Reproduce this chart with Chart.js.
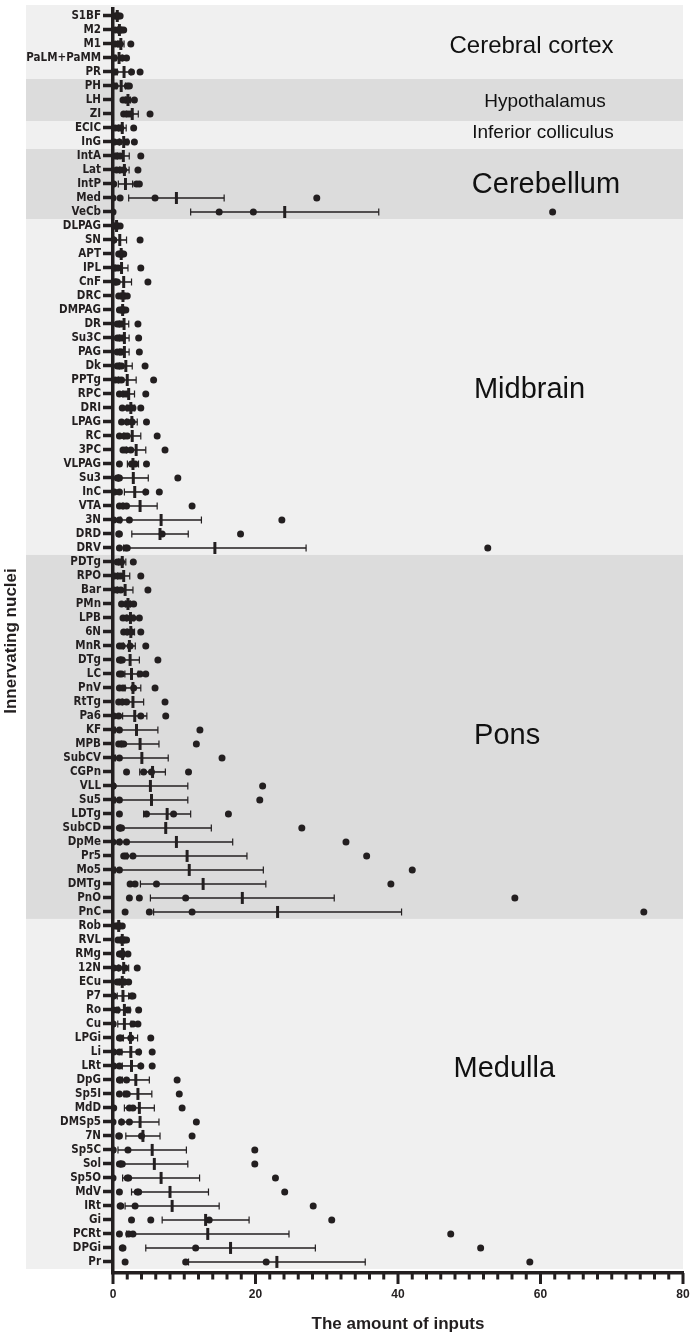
<!DOCTYPE html>
<html>
<head>
<meta charset="utf-8">
<script src="https://cdn.jsdelivr.net/npm/chart.js@4.4.1/dist/chart.umd.min.js"></script>
<style>
html,body{margin:0;padding:0;background:#ffffff;}
canvas{display:block;}
</style>
</head>
<body>
<canvas id="c" width="692" height="1339"></canvas>
<script>
// ---------------- DATA ----------------
const nuclei = ['S1BF','M2','M1','PaLM+PaMM','PR','PH','LH','ZI','ECIC','InG','IntA','Lat','IntP','Med','VeCb',
 'DLPAG','SN','APT','IPL','CnF','DRC','DMPAG','DR','Su3C','PAG','Dk','PPTg','RPC','DRI','LPAG','RC','3PC','VLPAG','Su3','InC','VTA','3N','DRD','DRV',
 'PDTg','RPO','Bar','PMn','LPB','6N','MnR','DTg','LC','PnV','RtTg','Pa6','KF','MPB','SubCV','CGPn','VLL','Su5','LDTg','SubCD','DpMe','Pr5','Mo5','DMTg','PnO','PnC',
 'Rob','RVL','RMg','12N','ECu','P7','Ro','Cu','LPGi','Li','LRt','DpG','Sp5I','MdD','DMSp5','7N','Sp5C','Sol','Sp5O','MdV','IRt','Gi','PCRt','DPGi','Pr'];

// individual animals (4 per nucleus)
const animal1 = [0.2,0.3,0.3,0,0,0,1.4,1.5,0.3,0.2,0.3,0.5,0,0,0,
 0,0,0.8,0,0.2,0.8,0.9,0.6,0.6,0.6,0.6,0.3,0.9,1.3,1.2,0.9,1.4,0.9,0.6,0.2,0.9,0.1,0.8,0.9,
 0.6,0.2,0.1,1.2,1.4,1.5,0.9,0.9,0.9,0.9,0.8,0.1,0,0.8,0,1.9,0,0,0.9,0.9,0,1.5,0,2.4,2.3,1.7,
 0.3,0.7,0.9,0.1,0.6,0,0,0,0.9,0.1,0.1,0.9,0.9,0.1,0,0.8,0,0.9,0,0.9,1.0,2.6,0.9,1.3,1.7];
const animal2 = [0.5,0.8,0.8,0.2,0.3,0.3,1.8,2.0,0.8,0.9,0.6,1.0,0.1,1.0,14.9,
 0.3,0.1,1.0,0.3,0.4,1.2,1.2,0.9,0.9,1.0,0.9,0.8,1.5,2.1,2.0,1.6,1.8,2.6,0.8,0.9,1.4,0.9,0.9,1.8,
 0.9,0.7,0.6,1.9,1.9,2.0,1.3,1.1,1.2,1.4,1.3,0.8,0,1.2,0,4.3,0,0,4.7,1.0,0.9,1.8,0,3.1,3.7,5.1,
 0.6,1.1,1.1,0.8,0.9,0.1,0.6,0,1.1,0.9,0.9,1.0,1.8,2.3,1.2,0.9,0,1.1,2.0,3.4,1.1,5.3,2.2,1.4,10.2];
const animal3 = [0.8,1.2,1.0,1.3,2.6,2.0,2.1,2.4,1.1,1.9,1.0,1.5,3.3,5.9,19.7,
 0.6,0.1,1.3,0.7,0.6,1.6,1.5,1.2,1.3,1.2,1.2,1.2,1.9,2.8,2.7,2.0,2.5,3.1,0.9,4.6,1.9,2.3,6.9,2.0,
 1.2,1.1,1.1,2.3,2.8,2.6,2.4,1.3,3.8,2.9,1.9,3.9,0.9,1.5,0.9,5.4,0,0.9,8.5,1.2,1.9,2.8,0.9,6.1,10.2,11.1,
 0.9,1.6,1.3,1.7,1.6,2.6,2.1,2.8,2.5,3.6,3.9,1.9,2.0,2.8,2.3,4.0,2.1,1.3,2.2,3.6,3.1,13.5,2.8,11.6,21.5];
const animal4 = [1.0,1.5,2.5,1.9,3.8,2.3,3.0,5.2,2.9,3.0,3.9,3.5,3.7,28.6,61.7,
 1.0,3.8,1.5,3.9,4.9,2.0,1.8,3.5,3.6,3.7,4.5,5.7,4.6,3.9,4.7,6.2,7.3,4.7,9.1,6.5,11.1,23.7,17.9,52.6,
 2.85,3.9,4.9,2.9,3.7,3.9,4.6,6.3,4.6,5.9,7.3,7.4,12.2,11.7,15.3,10.6,21.0,20.6,16.2,26.5,32.7,35.6,42.0,39.0,56.4,74.5,
 1.3,1.9,2.1,3.4,2.2,2.8,3.6,3.5,5.3,5.5,5.5,9.0,9.3,9.7,11.7,11.1,19.9,19.9,22.8,24.1,28.1,30.7,47.4,51.6,58.5];

// group mean and SEM
const meanInputs = [0.6,0.9,1.1,0.85,1.55,1.15,2.1,2.7,1.3,1.5,1.45,1.6,1.75,8.9,24.1,
 0.5,0.95,1.15,1.2,1.5,1.4,1.35,1.55,1.6,1.6,1.8,2.0,2.2,2.5,2.65,2.7,3.25,2.8,2.85,3.05,3.8,6.75,6.6,14.3,
 1.3,1.5,1.7,2.1,2.45,2.5,2.3,2.4,2.6,2.8,2.8,3.05,3.3,3.8,4.05,5.55,5.25,5.4,7.6,7.4,8.9,10.4,10.7,12.65,18.15,23.1,
 0.8,1.3,1.35,1.5,1.3,1.4,1.6,1.6,2.45,2.5,2.6,3.2,3.5,3.7,3.8,4.2,5.5,5.8,6.75,8.0,8.3,13.0,13.3,16.5,23.0];
const semInputs = [0.2,0.25,0.45,0.45,0.95,0.6,0.35,0.85,0.55,0.6,0.83,0.66,1.0,6.7,13.2,
 0.2,0.95,0.15,0.9,1.1,0.27,0.2,0.66,0.66,0.66,0.9,1.25,0.82,0.55,0.75,1.2,1.35,0.78,2.1,1.45,2.4,5.66,3.96,12.8,
 0.5,0.85,1.1,0.36,0.5,0.52,0.83,1.3,0.93,1.1,1.5,1.7,3.0,2.65,3.7,1.8,5.25,5.1,3.3,6.4,7.9,8.4,10.4,8.8,12.9,17.4,
 0.2,0.27,0.26,0.7,0.35,0.8,0.8,0.93,1.0,1.25,1.3,1.9,1.95,2.1,2.65,2.4,4.8,4.7,5.4,5.4,6.6,6.1,11.4,11.9,12.4];

// brain regions
const regionNames = ['Cerebral cortex','Hypothalamus','Inferior colliculus','Cerebellum','Midbrain','Pons','Medulla'];
const regionFirst = [0,5,8,10,15,39,65];
const regionLast  = [4,7,9,14,38,64,89];

// x axis tick labels
const xMajorTicks = [0,20,40,60,80];

// ---------------- STYLE ----------------
const INK = '#231f20';
const BAND_COLORS = ['#f0f0f0','#dcdcdc','#f0f0f0','#dcdcdc','#f0f0f0','#dcdcdc','#f0f0f0'];
const BAND_LEFT = 26;
const REGION_LABEL_STYLE = [
  {x:58.74,row:2.15,size:24},
  {x:60.63,row:6.13,size:19},
  {x:60.35,row:8.33,size:19},
  {x:60.77,row:12.05,size:29},
  {x:58.46,row:26.69,size:29},
  {x:55.31,row:51.44,size:29},
  {x:54.92,row:75.22,size:29}
];
const COND = "'DejaVu Sans Condensed','Liberation Sans Narrow',sans-serif";
const SANS = "'Liberation Sans',Arial,Helvetica,sans-serif";

// ---------------- BUILD ----------------
const animals = [animal1, animal2, animal3, animal4];
const pointData = [];
animals.forEach(arr => arr.forEach((v, i) => pointData.push({x: v, y: i})));
const meanData = meanInputs.map((m, i) => ({x: m, y: i}));

const bandsPlugin = {
  id: 'bands',
  beforeDraw(chart) {
    const {ctx, chartArea} = chart;
    const ys = chart.scales.y;
    ctx.save();
    regionNames.forEach((n, k) => {
      let top = ys.getPixelForValue(regionFirst[k] - 0.5);
      let bot = ys.getPixelForValue(regionLast[k] + 0.5);
      if (k === 0) top = Math.min(top, chartArea.top - 4);
      ctx.fillStyle = BAND_COLORS[k];
      ctx.fillRect(BAND_LEFT, top, chartArea.right - BAND_LEFT, bot - top);
    });
    ctx.restore();
  },
  afterDraw(chart) {
    const {ctx} = chart;
    const xs = chart.scales.x, ys = chart.scales.y;
    ctx.save();
    ctx.fillStyle = '#111111';
    ctx.textAlign = 'center';
    ctx.textBaseline = 'middle';
    regionNames.forEach((n, k) => {
      const st = REGION_LABEL_STYLE[k];
      ctx.font = st.size + 'px ' + SANS;
      ctx.fillText(n, xs.getPixelForValue(st.x), ys.getPixelForValue(st.row));
    });
    // x axis tick marks
    ctx.strokeStyle = INK;
    ctx.lineWidth = 3;
    const base = chart.chartArea.bottom;
    xs.ticks.forEach(t => {
      const px = xs.getPixelForValue(t.value);
      const len = xMajorTicks.includes(t.value) ? 11 : 6.5;
      ctx.beginPath();
      ctx.moveTo(px, base);
      ctx.lineTo(px, base + len);
      ctx.stroke();
    });
    ctx.restore();
  }
};

const errorBarPlugin = {
  id: 'errorbars',
  beforeDatasetsDraw(chart) {
    const {ctx} = chart;
    const xs = chart.scales.x, ys = chart.scales.y;
    ctx.save();
    ctx.strokeStyle = INK;
    meanInputs.forEach((m, i) => {
      const lo = Math.max(0, m - semInputs[i]);
      const hi = m + semInputs[i];
      const y = ys.getPixelForValue(i);
      const x1 = xs.getPixelForValue(lo), x2 = xs.getPixelForValue(hi);
      ctx.lineWidth = 1.6;
      ctx.beginPath(); ctx.moveTo(x1, y); ctx.lineTo(x2, y); ctx.stroke();
      ctx.lineWidth = 1.2;
      ctx.beginPath();
      if (lo > 0) { ctx.moveTo(x1, y - 3.5); ctx.lineTo(x1, y + 3.5); }
      ctx.moveTo(x2, y - 3.5); ctx.lineTo(x2, y + 3.5);
      ctx.stroke();
    });
    ctx.restore();
  }
};

new Chart(document.getElementById('c'), {
  type: 'scatter',
  data: {
    datasets: [
      {
        label: 'Mean',
        data: meanData,
        pointStyle: 'line',
        rotation: 90,
        pointRadius: 6,
        borderWidth: 3,
        borderColor: INK,
        backgroundColor: INK,
        clip: false
      },
      {
        label: 'Animals',
        data: pointData,
        pointRadius: 3.5,
        pointBorderWidth: 0,
        backgroundColor: INK,
        borderColor: INK,
        clip: {left: 0, top: false, right: false, bottom: false}
      }
    ]
  },
  options: {
    responsive: false,
    animation: false,
    devicePixelRatio: 1,
    layout: {padding: {top: 9, right: 7, left: 0, bottom: 0}},
    plugins: {legend: {display: false}, tooltip: {enabled: false}},
    scales: {
      x: {
        type: 'linear',
        min: 0, max: 80,
        ticks: {
          stepSize: 2,
          autoSkip: false,
          maxRotation: 0,
          padding: 14,
          color: INK,
          font: {family: SANS, weight: 'bold', size: 12},
          callback: v => xMajorTicks.includes(v) ? String(v) : ''
        },
        grid: {display: false, drawTicks: false},
        border: {display: true, width: 3.5, color: INK},
        title: {
          display: true,
          text: 'The amount of inputs',
          color: INK,
          font: {family: SANS, weight: 'bold', size: 17},
          padding: {top: 4, bottom: 4}
        },
        afterFit: s => { s.height = 66; s.paddingLeft = 0; s.paddingRight = 0; }
      },
      y: {
        type: 'linear',
        reverse: true,
        min: -0.5, max: 89.79,
        afterBuildTicks: s => { s.ticks = nuclei.map((n, i) => ({value: i})); },
        ticks: {
          autoSkip: false,
          padding: 2,
          color: INK,
          font: {family: COND, weight: 'bold', size: 11.5},
          callback: v => nuclei[v]
        },
        grid: {drawOnChartArea: false, drawTicks: true, tickLength: 10, tickWidth: 3.5, tickColor: INK},
        border: {display: true, width: 3.5, color: INK},
        title: {
          display: true,
          text: 'Innervating nuclei',
          color: INK,
          font: {family: SANS, weight: 'bold', size: 17},
          padding: {top: 1, bottom: 1}
        },
        afterFit: s => { s.width = 113; s.paddingTop = 0; s.paddingBottom = 0; }
      }
    }
  },
  plugins: [bandsPlugin, errorBarPlugin]
});
</script>
</body>
</html>
